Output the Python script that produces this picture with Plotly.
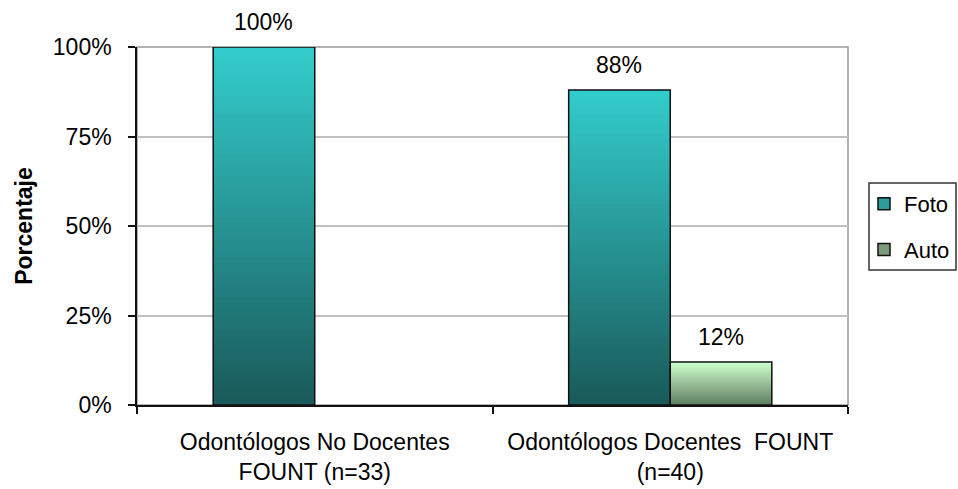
import plotly.graph_objects as go

categories = ["Odontólogos No Docentes<br>FOUNT (n=33)", "Odontólogos Docentes  FOUNT<br>(n=40)"]
series_names = ["Foto", "Auto"]
foto = [1.00, 0.88]
auto = [None, 0.12]
labels_foto = ["100%", "88%"]
labels_auto = ["", "12%"]
y_ticks = [0, 0.25, 0.5, 0.75, 1.0]
y_tick_labels = ["0%", "25%", "50%", "75%", "100%"]

FONT = "Liberation Sans, Arial, sans-serif"
FS = 23
TXT = "#000000"
N = 80
W = 1 / 3.5

grad = {
    "Foto": ((51, 204, 204), (26, 90, 90)),
    "Auto": ((204, 255, 204), (95, 125, 95)),
}
legend_col = {"Foto": "#2a9d9d", "Auto": "#7b9c7b"}


def lerp(c1, c2, t):
    return "rgb(%d,%d,%d)" % tuple(round(a + (b - a) * t) for a, b in zip(c1, c2))


fig = go.Figure()
for name, vals, offs in [("Foto", foto, -W), ("Auto", auto, 0.0)]:
    top, bot = grad[name]
    xs, ys, bs, cs = [], [], [], []
    for ci, v in enumerate(vals):
        if v is None:
            continue
        for k in range(N):
            xs.append(categories[ci])
            ys.append(v / N * (2 if k < N - 1 else 1))
            bs.append(v * k / N)
            cs.append(lerp(bot, top, k / (N - 1)))
    fig.add_trace(go.Bar(x=xs, y=ys, base=bs, width=W, offset=offs,
                         marker=dict(color=cs, line=dict(width=0)),
                         showlegend=False, hoverinfo="skip", legendgroup=name))
    # outline
    fig.add_trace(go.Bar(x=categories, y=vals,
                         width=W, offset=offs,
                         marker=dict(color="rgba(0,0,0,0)", line=dict(color="#111111", width=1.5)),
                         showlegend=False, hoverinfo="skip", legendgroup=name))
    # legend entry
    fig.add_trace(go.Bar(x=[None], y=[None], name=name,
                         marker=dict(color=legend_col[name], line=dict(color="#111111", width=1.5)),
                         legendgroup=name))

for vals, labs, offs in [(foto, labels_foto, -W), (auto, labels_auto, 0.0)]:
    for ci, (v, t) in enumerate(zip(vals, labs)):
        if v is None or not t:
            continue
        fig.add_annotation(x=ci + offs + W / 2, y=v, xref="x", yref="y", text=t,
                           showarrow=False, yshift=25,
                           font=dict(family=FONT, size=FS, color=TXT))

fig.update_layout(
    width=958, height=489,
    margin=dict(l=137, r=110, t=47, b=84, autoexpand=False),
    paper_bgcolor="white", plot_bgcolor="white",
    barmode="overlay",
    font=dict(family=FONT, size=FS, color=TXT),
    legend=dict(x=1.0225, y=0.62, xanchor="left", yanchor="top",
                borderwidth=0, bgcolor="rgba(0,0,0,0)",
                font=dict(family=FONT, size=22, color=TXT),
                tracegroupgap=14, itemwidth=30, traceorder="grouped"),
    showlegend=True,
)
fig.update_xaxes(
    type="category", categoryorder="array", categoryarray=categories,
    range=[-0.5, 1.5],
    showgrid=False, zeroline=False,
    showline=True, linecolor="#111111", linewidth=1.5,
    ticks="outside", tickson="boundaries", ticklen=7, tickcolor="#111111", tickwidth=1.5,
    ticklabelstandoff=16,
    tickfont=dict(family=FONT, size=FS, color=TXT),
)
fig.update_yaxes(
    range=[0, 1], tickmode="array", tickvals=y_ticks, ticktext=y_tick_labels,
    showgrid=True, gridcolor="#c0c0c0", gridwidth=1.5,
    zeroline=False, showline=True, linecolor="#111111", linewidth=1.5,
    ticks="outside", ticklen=7, tickcolor="#111111", tickwidth=1.5,
    ticklabelstandoff=12,
    tickfont=dict(family=FONT, size=FS, color=TXT),
    title=dict(text="<b>Porcentaje</b>", standoff=14,
               font=dict(family=FONT, size=FS, color=TXT)),
)
# plot-area border (top/right)
fig.add_shape(type="rect", xref="paper", yref="paper", x0=0, x1=1, y0=0, y1=1,
              line=dict(color="#999999", width=1.5), layer="below")
# legend frame
fig.add_shape(type="rect", xref="paper", yref="paper",
              x0=(869 - 137) / 711, x1=(956 - 137) / 711,
              y0=1 - (270 - 47) / 358, y1=1 - (183 - 47) / 358,
              line=dict(color="#333333", width=1.5), layer="above")
fig.write_html(
    "out.html",
    config={"displayModeBar": False},
    post_script="document.body.style.margin='0';document.body.style.overflow='hidden';",
)
